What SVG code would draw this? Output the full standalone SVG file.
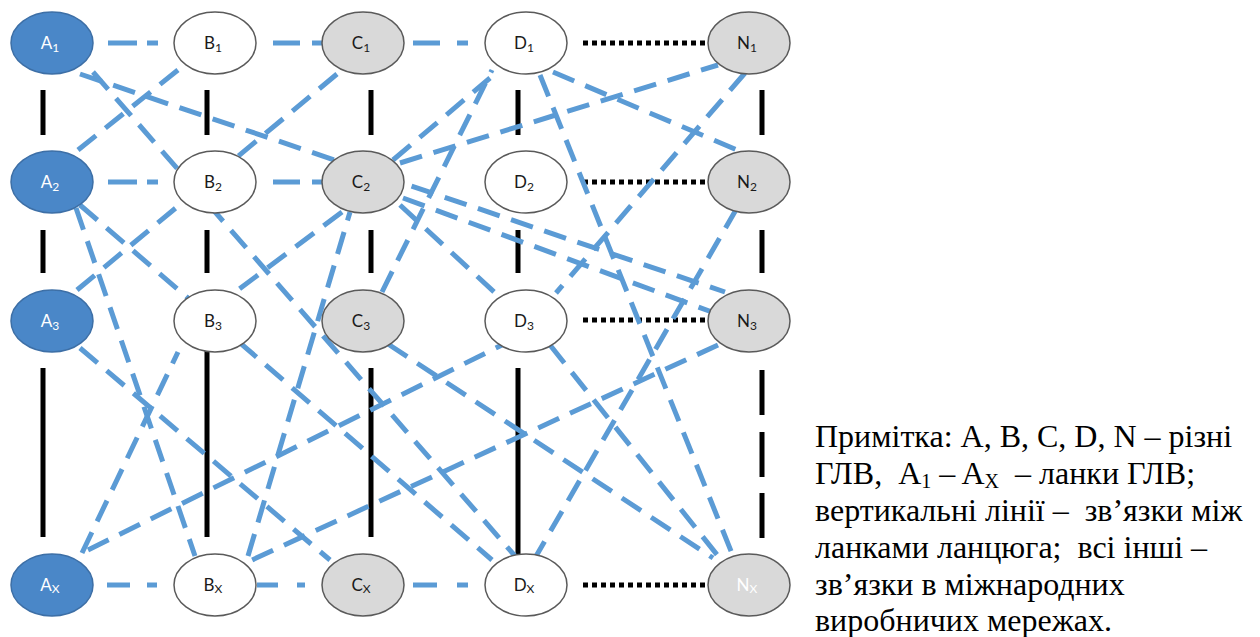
<svg xmlns="http://www.w3.org/2000/svg" width="1260" height="637" viewBox="0 0 1260 637">
<style>
.v{stroke:#000;stroke-width:5;fill:none}
.dot{stroke:#000;stroke-width:5;stroke-dasharray:5 4;fill:none}
.h{stroke:#5b9bd5;stroke-width:5;fill:none}
.d{stroke:#5b9bd5;stroke-width:5;stroke-dasharray:23 12;fill:none}
.na{fill:#4a87c8;stroke:#3d6fa6;stroke-width:1.5}
.nw{fill:#fff;stroke:#5a5a5a;stroke-width:1.5}
.ng{fill:#d9d9d9;stroke:#5a5a5a;stroke-width:1.5}
.t{font-family:Lato,"Open Sans",sans-serif;font-size:17px;text-anchor:middle;fill:#1a1a1a}
.tw{fill:#fff}
.s{font-size:12px}
.note{font-family:"Liberation Serif","Times New Roman",serif;font-size:32px;fill:#000;white-space:pre}
.ns{font-size:20px}
</style>
<rect width="1260" height="637" fill="#fff"/>
<g id="connectors">
<path class="v" d="M43 90V135M43 230V273M43 368V537M207 90V135M207 230V273M207 350V537M371 90V135M371 230V273M371 368V537M518 90V135M518 230V273M518 368V555M762 90V135M762 230V273M762 370V415M762 432V477M762 493V538"/>
<path class="dot" d="M583 43H708M583 182H708M583 320H708M583 585H708"/>
<path class="h" d="M108 43H137M147 43H158M273 43H300M312 43H323M413 43H440M457 43H468M108 182H137M147 182H158M273 182H300M312 182H323M107 585H130M147 585H157M257 585H278M297 585H305M413 585H437M457 585H468"/>
<line class="d" x1="80" y1="74" x2="725" y2="292"/>
<line class="d" x1="93" y1="72" x2="515" y2="556"/>
<line class="d" x1="78" y1="150" x2="178" y2="70"/>
<line class="d" x1="76" y1="208" x2="195" y2="556"/>
<line class="d" x1="80" y1="205" x2="492" y2="560"/>
<line class="d" x1="77" y1="290" x2="337" y2="74"/>
<line class="d" x1="80" y1="348" x2="330" y2="560"/>
<line class="d" x1="82" y1="553" x2="178" y2="352"/>
<line class="d" x1="88" y1="550" x2="502" y2="345"/>
<line class="d" x1="718" y1="345" x2="252" y2="560"/>
<line class="d" x1="248" y1="556" x2="350" y2="212"/>
<line class="d" x1="382" y1="292" x2="492" y2="70"/>
<line class="d" x1="393" y1="160" x2="490" y2="78"/>
<line class="d" x1="400" y1="163" x2="718" y2="65"/>
<line class="d" x1="553" y1="72" x2="742" y2="152"/>
<line class="d" x1="540" y1="75" x2="733" y2="556"/>
<line class="d" x1="745" y1="73" x2="556" y2="293"/>
<line class="d" x1="737" y1="208" x2="535" y2="558"/>
<line class="d" x1="403" y1="198" x2="712" y2="312"/>
<line class="d" x1="400" y1="205" x2="505" y2="302"/>
<line class="d" x1="342" y1="212" x2="238" y2="290"/>
<line class="d" x1="388" y1="344" x2="713" y2="558"/>
<line class="d" x1="550" y1="345" x2="718" y2="556"/>
</g>
<g id="A1"><ellipse class="na" cx="52" cy="43" rx="41" ry="31"/><text class="t tw" x="50" y="49">A<tspan class="s" dy="3">1</tspan></text></g>
<g id="A2"><ellipse class="na" cx="52" cy="182" rx="41" ry="31"/><text class="t tw" x="50" y="188">A<tspan class="s" dy="3">2</tspan></text></g>
<g id="A3"><ellipse class="na" cx="52" cy="321" rx="41" ry="31"/><text class="t tw" x="50" y="327">A<tspan class="s" dy="3">3</tspan></text></g>
<g id="AX"><ellipse class="na" cx="52" cy="585" rx="41" ry="31"/><text class="t tw" x="50" y="591">A<tspan class="s" dy="2">X</tspan></text></g>
<g id="B1"><ellipse class="nw" cx="215" cy="43" rx="41" ry="31"/><text class="t" x="213" y="49">B<tspan class="s" dy="3">1</tspan></text></g>
<g id="B2"><ellipse class="nw" cx="215" cy="182" rx="41" ry="31"/><text class="t" x="213" y="188">B<tspan class="s" dy="3">2</tspan></text></g>
<g id="B3"><ellipse class="nw" cx="215" cy="321" rx="41" ry="31"/><text class="t" x="213" y="327">B<tspan class="s" dy="3">3</tspan></text></g>
<g id="BX"><ellipse class="nw" cx="215" cy="585" rx="41" ry="31"/><text class="t" x="213" y="591">B<tspan class="s" dy="2">X</tspan></text></g>
<g id="C1"><ellipse class="ng" cx="363" cy="43" rx="41" ry="31"/><text class="t" x="361" y="49">C<tspan class="s" dy="3">1</tspan></text></g>
<g id="C2"><ellipse class="ng" cx="363" cy="182" rx="41" ry="31"/><text class="t" x="361" y="188">C<tspan class="s" dy="3">2</tspan></text></g>
<g id="C3"><ellipse class="ng" cx="363" cy="321" rx="41" ry="31"/><text class="t" x="361" y="327">C<tspan class="s" dy="3">3</tspan></text></g>
<g id="CX"><ellipse class="ng" cx="363" cy="585" rx="41" ry="31"/><text class="t" x="361" y="591">C<tspan class="s" dy="2">X</tspan></text></g>
<g id="D1"><ellipse class="nw" cx="526" cy="43" rx="41" ry="31"/><text class="t" x="524" y="49">D<tspan class="s" dy="3">1</tspan></text></g>
<g id="D2"><ellipse class="nw" cx="526" cy="182" rx="41" ry="31"/><text class="t" x="524" y="188">D<tspan class="s" dy="3">2</tspan></text></g>
<g id="D3"><ellipse class="nw" cx="526" cy="321" rx="41" ry="31"/><text class="t" x="524" y="327">D<tspan class="s" dy="3">3</tspan></text></g>
<g id="DX"><ellipse class="nw" cx="526" cy="585" rx="41" ry="31"/><text class="t" x="524" y="591">D<tspan class="s" dy="2">X</tspan></text></g>
<g id="N1"><ellipse class="ng" cx="749" cy="43" rx="41" ry="31"/><text class="t" x="747" y="49">N<tspan class="s" dy="3">1</tspan></text></g>
<g id="N2"><ellipse class="ng" cx="749" cy="182" rx="41" ry="31"/><text class="t" x="747" y="188">N<tspan class="s" dy="3">2</tspan></text></g>
<g id="N3"><ellipse class="ng" cx="749" cy="321" rx="41" ry="31"/><text class="t" x="747" y="327">N<tspan class="s" dy="3">3</tspan></text></g>
<g id="NX"><ellipse class="ng" cx="749" cy="585" rx="41" ry="31"/><text class="t tw" x="747" y="591">N<tspan class="s" dy="2">X</tspan></text></g>
<g id="note" class="note">
<text x="815" y="447" xml:space="preserve">Примітка: A, B, C, D, N – різні</text>
<text x="815" y="484" xml:space="preserve">ГЛВ,  A<tspan class="ns" dy="4">1</tspan><tspan dy="-4"> – A</tspan><tspan class="ns" dy="4">X</tspan><tspan dy="-4">  – ланки ГЛВ;</tspan></text>
<text x="815" y="521" xml:space="preserve">вертикальні лінії –  зв’язки між</text>
<text x="815" y="558" xml:space="preserve">ланками ланцюга;  всі інші –</text>
<text x="815" y="595" xml:space="preserve">зв’язки в міжнародних</text>
<text x="815" y="631" xml:space="preserve">виробничих мережах.</text>
</g>
</svg>
